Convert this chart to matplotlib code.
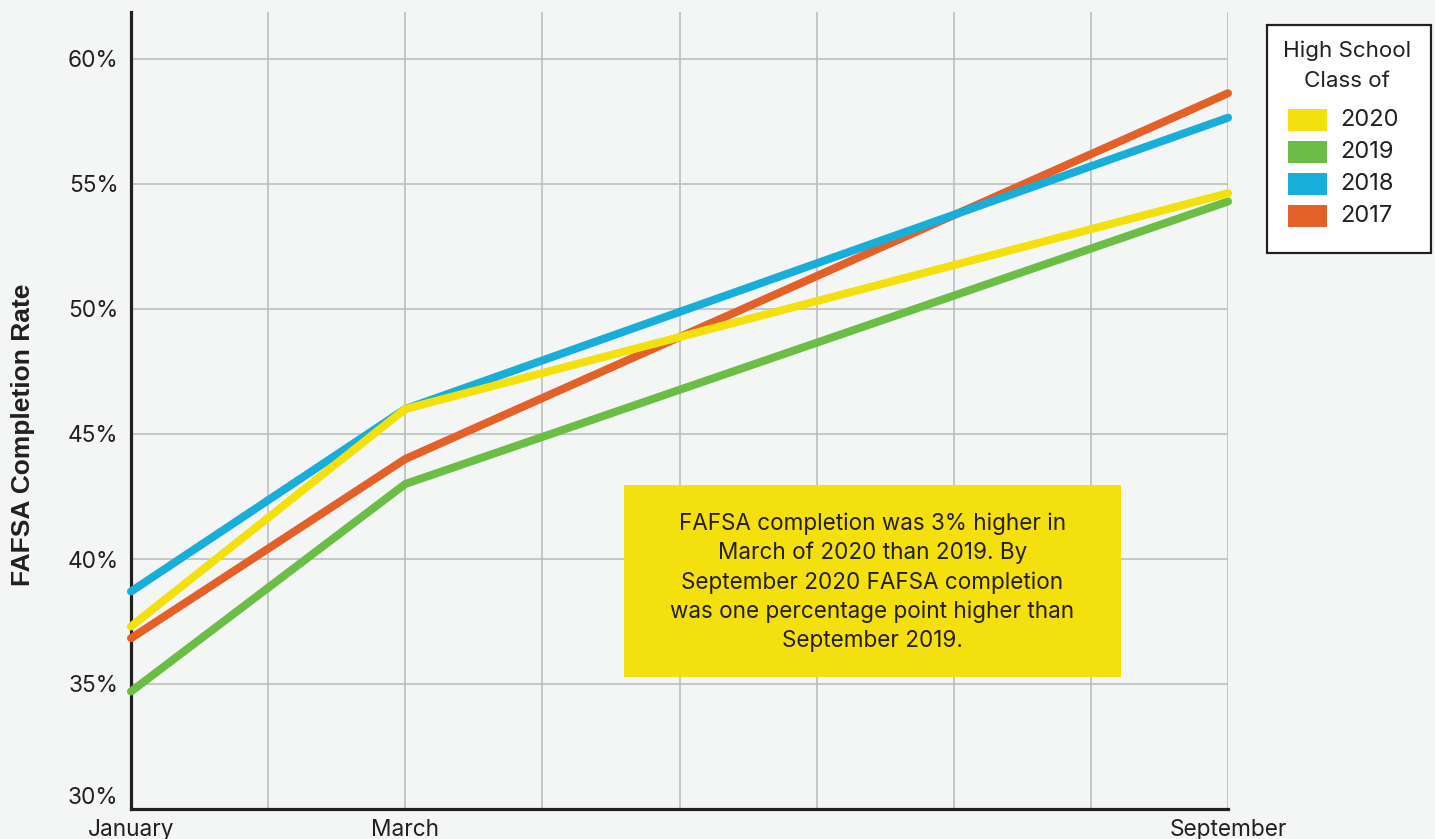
import matplotlib
matplotlib.use("Agg")
import matplotlib.pyplot as plt
from matplotlib.patches import Rectangle

plt.rcParams['font.family'] = ['Inter', 'DejaVu Sans']

# ---- data ----
months_idx = [0, 2, 8]                      # Jan, Mar, Sep (months since January)
tick_labels = ["January", "March", "September"]
classes = ["2017", "2018", "2019", "2020"]
rate_2017 = [36.83, 44.0, 58.63]
rate_2018 = [38.7, 46.0, 57.65]
rate_2019 = [34.7, 43.0, 54.3]
rate_2020 = [37.3, 46.0, 54.63]
colors = {"2020": "#F3E00C", "2019": "#6CBD45", "2018": "#17AEDA", "2017": "#E36128"}
series = {"2017": rate_2017, "2018": rate_2018, "2019": rate_2019, "2020": rate_2020}
yticks = [30, 35, 40, 45, 50, 55, 60]
note = ("FAFSA completion was 3% higher in\nMarch of 2020 than 2019. By\n"
        "September 2020 FAFSA completion\nwas one percentage point higher than\n"
        "September 2019.")

W, H = 1435, 839
bg = "#F4F6F5"
ink = "#231F20"
fig = plt.figure(figsize=(W / 100, H / 100), dpi=100, facecolor=bg)
ax = fig.add_axes([131 / W, 1 - 809 / H, (1228 - 131) / W, (809 - 12) / H])
ax.set_facecolor(bg)

ax.set_xlim(0, 8)
ax.set_ylim(30, 30 + (809 - 12) / 25)

for c in classes:
    ax.plot(months_idx, series[c], color=colors[c], lw=5.8, solid_capstyle='round',
            solid_joinstyle='round', clip_on=False, zorder=5)

ax.set_xticks(months_idx)
ax.set_xticklabels(tick_labels)
ax.set_xticks([1, 3, 4, 5, 6, 7], minor=True)
ax.set_yticks(yticks)
ax.set_yticklabels([f"{v}%" for v in yticks])
ax.tick_params(axis='both', which='both', length=0, labelsize=16.3, labelcolor=ink)
ax.tick_params(axis='x', pad=7.5)
ax.tick_params(axis='y', pad=9)
ax.get_yticklabels()[0].set_verticalalignment('bottom')

ax.grid(True, which='both', color="#B8B9BA", lw=1.1, zorder=1)
ax.set_axisbelow(True)
for s in ['top', 'right']:
    ax.spines[s].set_visible(False)
for s in ['left', 'bottom']:
    ax.spines[s].set_color(ink)
    ax.spines[s].set_linewidth(2.3)
    ax.spines[s].set_zorder(4)

fig.text(23 / W, 1 - 435 / H, "FAFSA Completion Rate", rotation=90, ha='center', va='center',
         fontsize=19, fontweight='bold', color=ink, family=['Liberation Sans', 'DejaVu Sans'])

# annotation box
fig.patches.append(Rectangle((624 / W, 1 - 677 / H), (1121 - 624) / W, (677 - 485) / H,
                             transform=fig.transFigure, facecolor="#F3E00C", edgecolor='none',
                             zorder=6))
fig.text(872.5 / W, 1 - 582 / H, note, ha='center', va='center', fontsize=16.2,
         linespacing=1.4, color=ink, zorder=7)

# legend (manual)
fig.patches.append(Rectangle((1267 / W, 1 - 253 / H), (1431 - 1267) / W, (253 - 25) / H,
                             transform=fig.transFigure, facecolor='white', edgecolor=ink,
                             lw=1.6, zorder=6))
fig.text(1347 / W, 1 - 66 / H, "High School\nClass of", ha='center', va='center',
         fontsize=16.1, linespacing=1.6, color=ink, zorder=7)
for i, c in enumerate(["2020", "2019", "2018", "2017"]):
    yc = 120 + 32 * i
    fig.patches.append(Rectangle((1288 / W, 1 - (yc + 11) / H), 39 / W, 22 / H,
                                 transform=fig.transFigure, facecolor=colors[c],
                                 edgecolor='none', zorder=7))
    fig.text(1340 / W, 1 - yc / H, c, ha='left', va='center', fontsize=17,
             color=ink, zorder=7)

fig.savefig("out.png", dpi=100, facecolor=bg)
